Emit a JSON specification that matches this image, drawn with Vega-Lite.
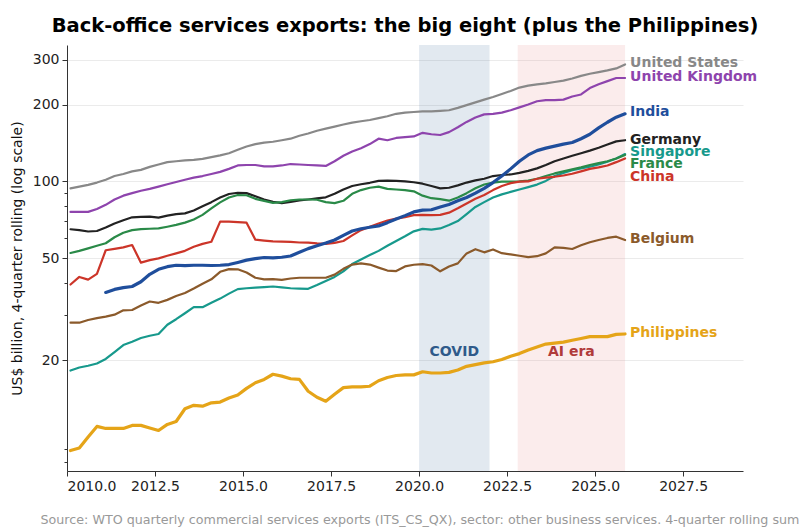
{
  "$schema": "https://vega.github.io/schema/vega-lite/v6.json",
  "width": 676,
  "height": 426,
  "autosize": {"type": "none"},
  "padding": {"left": 67, "top": 45, "right": 62, "bottom": 61},
  "title": {
    "text": "Back-office services exports: the big eight (plus the Philippines)",
    "fontSize": 19.5,
    "fontWeight": "bold",
    "color": "#000000",
    "anchor": "middle",
    "baseline": "alphabetic",
    "offset": 13,
    "dy": 19
  },
  "config": {
    "font": "DejaVu Sans",
    "view": {"stroke": null},
    "axis": {
      "domainColor": "#333333",
      "tickColor": "#333333",
      "labelColor": "#222222",
      "labelFontSize": 14,
      "labelFont": "DejaVu Sans",
      "titleFont": "DejaVu Sans",
      "titleFontWeight": "normal"
    }
  },
  "datasets": {
    "series": [
      {"t": 2010.1, "US": 94, "UK": 76, "DE": 65, "SG": 18.2, "FR": 52.5, "CN": 39.5, "BE": 28.0, "PH": 8.85},
      {"t": 2010.35, "US": 95.5, "UK": 76, "DE": 64.5, "SG": 18.7, "FR": 53.5, "CN": 42.3, "BE": 28.0, "PH": 9.05},
      {"t": 2010.6, "US": 97, "UK": 76, "DE": 63.7, "SG": 19.0, "FR": 54.7, "CN": 41.3, "BE": 28.7, "PH": 10.0},
      {"t": 2010.85, "US": 99, "UK": 78, "DE": 64, "SG": 19.4, "FR": 56, "CN": 43.5, "BE": 29.2, "PH": 11.0},
      {"t": 2011.1, "US": 101.5, "UK": 81, "IN": 36.8, "DE": 66, "SG": 20.2, "FR": 57.3, "CN": 53.8, "BE": 29.6, "PH": 10.8},
      {"t": 2011.35, "US": 105, "UK": 85, "IN": 37.8, "DE": 68.5, "SG": 21.5, "FR": 60.5, "CN": 54.5, "BE": 30.1, "PH": 10.8},
      {"t": 2011.6, "US": 107, "UK": 88, "IN": 38.4, "DE": 70.5, "SG": 22.9, "FR": 63, "CN": 55.2, "BE": 31.3, "PH": 10.8},
      {"t": 2011.85, "US": 109.5, "UK": 90, "IN": 38.8, "DE": 72.4, "SG": 23.6, "FR": 64.5, "CN": 56.4, "BE": 31.4, "PH": 11.1},
      {"t": 2012.1, "US": 111, "UK": 92, "IN": 40.5, "DE": 72.7, "SG": 24.4, "FR": 65.1, "CN": 48.1, "BE": 32.7, "PH": 11.1},
      {"t": 2012.35, "US": 114, "UK": 93.5, "IN": 43.3, "DE": 72.8, "SG": 24.9, "FR": 65.3, "CN": 49.2, "BE": 33.9, "PH": 10.85},
      {"t": 2012.6, "US": 116.5, "UK": 95.5, "IN": 45.3, "DE": 72.2, "SG": 25.3, "FR": 65.5, "CN": 50.0, "BE": 33.5, "PH": 10.6},
      {"t": 2012.85, "US": 119, "UK": 97.5, "IN": 46.4, "DE": 73.5, "SG": 27.5, "FR": 66.5, "CN": 51.2, "BE": 34.4, "PH": 11.2},
      {"t": 2013.1, "US": 120, "UK": 99.5, "IN": 47, "DE": 74.5, "SG": 28.9, "FR": 67.6, "CN": 52.3, "BE": 35.6, "PH": 11.5},
      {"t": 2013.35, "US": 121, "UK": 101.5, "IN": 46.8, "DE": 75, "SG": 30.5, "FR": 69, "CN": 53.5, "BE": 36.6, "PH": 12.9},
      {"t": 2013.6, "US": 121.5, "UK": 103.5, "IN": 47, "DE": 77, "SG": 32.2, "FR": 71, "CN": 55.5, "BE": 38.1, "PH": 13.3},
      {"t": 2013.85, "US": 122.5, "UK": 105, "IN": 47, "DE": 80, "SG": 32.2, "FR": 74, "CN": 57, "BE": 39.8, "PH": 13.2},
      {"t": 2014.1, "US": 124.5, "UK": 107, "IN": 46.9, "DE": 83, "SG": 33.5, "FR": 78.5, "CN": 58.1, "BE": 41.4, "PH": 13.6},
      {"t": 2014.35, "US": 126.5, "UK": 109, "IN": 47, "DE": 86.5, "SG": 34.8, "FR": 82.8, "CN": 69.6, "BE": 44.3, "PH": 13.7},
      {"t": 2014.6, "US": 129, "UK": 112, "IN": 47.3, "DE": 89.3, "SG": 36.4, "FR": 86.5, "CN": 69.6, "BE": 45.4, "PH": 14.2},
      {"t": 2014.85, "US": 133, "UK": 115.5, "IN": 48.2, "DE": 90.3, "SG": 37.9, "FR": 88.5, "CN": 69.3, "BE": 45.3, "PH": 14.6},
      {"t": 2015.1, "US": 137, "UK": 116, "IN": 49.2, "DE": 90, "SG": 38.2, "FR": 88.3, "CN": 69, "BE": 44, "PH": 15.5},
      {"t": 2015.35, "US": 140, "UK": 116, "IN": 49.9, "DE": 87.5, "SG": 38.4, "FR": 85.5, "CN": 59.2, "BE": 42, "PH": 16.3},
      {"t": 2015.6, "US": 142, "UK": 114.5, "IN": 50.4, "DE": 85, "SG": 38.6, "FR": 84, "CN": 58.7, "BE": 41.4, "PH": 16.8},
      {"t": 2015.85, "US": 143, "UK": 114.5, "IN": 50.2, "DE": 83.3, "SG": 38.8, "FR": 82.5, "CN": 58.3, "BE": 41.5, "PH": 17.6},
      {"t": 2016.1, "US": 145, "UK": 115.5, "IN": 50.5, "DE": 82.3, "SG": 38.5, "FR": 83, "CN": 58.2, "BE": 41.2, "PH": 17.3},
      {"t": 2016.35, "US": 147, "UK": 117, "IN": 51.1, "DE": 83.2, "SG": 38.2, "FR": 84.4, "CN": 58, "BE": 41.7, "PH": 16.9},
      {"t": 2016.6, "US": 151, "UK": 116.5, "IN": 52.8, "DE": 84.3, "SG": 38.1, "FR": 85, "CN": 57.7, "BE": 42, "PH": 16.8},
      {"t": 2016.85, "US": 154, "UK": 116, "IN": 54.6, "DE": 85, "SG": 38.0, "FR": 85, "CN": 57.6, "BE": 42, "PH": 15.1},
      {"t": 2017.1, "US": 158, "UK": 115.5, "IN": 56, "DE": 85.8, "SG": 39.3, "FR": 84.8, "CN": 57.2, "BE": 42, "PH": 14.3},
      {"t": 2017.35, "US": 161, "UK": 115, "IN": 57.4, "DE": 86.7, "SG": 40.8, "FR": 83, "CN": 57, "BE": 42, "PH": 13.8},
      {"t": 2017.6, "US": 164, "UK": 120, "IN": 59, "DE": 89.5, "SG": 42.3, "FR": 82.3, "CN": 57.5, "BE": 43.2, "PH": 14.7},
      {"t": 2017.85, "US": 167, "UK": 126, "IN": 61.5, "DE": 93, "SG": 44.5, "FR": 84, "CN": 58.5, "BE": 45.5, "PH": 15.6},
      {"t": 2018.1, "US": 170, "UK": 131, "IN": 64, "DE": 96, "SG": 47.5, "FR": 89.5, "CN": 61.5, "BE": 47.3, "PH": 15.7},
      {"t": 2018.35, "US": 172, "UK": 135, "IN": 65.3, "DE": 97.5, "SG": 49.5, "FR": 92.5, "CN": 64.5, "BE": 47.8, "PH": 15.7},
      {"t": 2018.6, "US": 174, "UK": 140, "IN": 66.2, "DE": 98.8, "SG": 51.5, "FR": 94.5, "CN": 66.5, "BE": 47.3, "PH": 15.8},
      {"t": 2018.85, "US": 177, "UK": 147, "IN": 67, "DE": 100.5, "SG": 53.5, "FR": 95.5, "CN": 68.5, "BE": 46, "PH": 16.6},
      {"t": 2019.1, "US": 180, "UK": 145, "IN": 69, "DE": 100.7, "SG": 56, "FR": 93.5, "CN": 70.3, "BE": 44.8, "PH": 17.1},
      {"t": 2019.35, "US": 184, "UK": 148, "IN": 71.3, "DE": 100.5, "SG": 58.5, "FR": 93, "CN": 71.5, "BE": 44.6, "PH": 17.4},
      {"t": 2019.6, "US": 186, "UK": 149, "IN": 73.5, "DE": 100, "SG": 61, "FR": 92.5, "CN": 72.5, "BE": 46.5, "PH": 17.5},
      {"t": 2019.85, "US": 187, "UK": 150, "IN": 76, "DE": 99.3, "SG": 63.8, "FR": 91.5, "CN": 73.8, "BE": 47.2, "PH": 17.5},
      {"t": 2020.1, "US": 188, "UK": 155, "IN": 77.2, "DE": 98, "SG": 65.2, "FR": 88, "CN": 74, "BE": 47.5, "PH": 18.0},
      {"t": 2020.35, "US": 188, "UK": 153, "IN": 77.5, "DE": 96, "SG": 64.8, "FR": 86, "CN": 73.8, "BE": 46.9, "PH": 17.8},
      {"t": 2020.6, "US": 189, "UK": 152, "IN": 79.5, "DE": 94, "SG": 65.5, "FR": 85.3, "CN": 74, "BE": 44.5, "PH": 17.8},
      {"t": 2020.85, "US": 190, "UK": 156, "IN": 81.3, "DE": 94.5, "SG": 67.5, "FR": 84.1, "CN": 75.5, "BE": 46.5, "PH": 17.9},
      {"t": 2021.1, "US": 194, "UK": 163, "IN": 84, "DE": 96.5, "SG": 70, "FR": 86.5, "CN": 78.5, "BE": 47.8, "PH": 18.3},
      {"t": 2021.35, "US": 199, "UK": 171, "IN": 86.5, "DE": 99, "SG": 74.5, "FR": 90, "CN": 82, "BE": 52.3, "PH": 18.9},
      {"t": 2021.6, "US": 204, "UK": 178, "IN": 90, "DE": 101, "SG": 79.5, "FR": 94, "CN": 85.5, "BE": 54.3, "PH": 19.2},
      {"t": 2021.85, "US": 209, "UK": 183, "IN": 94, "DE": 102.5, "SG": 83, "FR": 97.3, "CN": 88.5, "BE": 52.8, "PH": 19.5},
      {"t": 2022.1, "US": 214, "UK": 184, "IN": 99, "DE": 105, "SG": 86.5, "FR": 99, "CN": 92.5, "BE": 54.2, "PH": 19.7},
      {"t": 2022.35, "US": 220, "UK": 186, "IN": 105, "DE": 106, "SG": 89, "FR": 99.8, "CN": 96, "BE": 52.4, "PH": 20.1},
      {"t": 2022.6, "US": 226, "UK": 190, "IN": 112, "DE": 106.5, "SG": 91, "FR": 99.8, "CN": 98.5, "BE": 51.8, "PH": 20.7},
      {"t": 2022.85, "US": 233, "UK": 195, "IN": 120, "DE": 108, "SG": 93, "FR": 100, "CN": 99.8, "BE": 51.2, "PH": 21.2},
      {"t": 2023.1, "US": 237, "UK": 200, "IN": 127, "DE": 110, "SG": 95, "FR": 100.8, "CN": 100, "BE": 50.6, "PH": 21.9},
      {"t": 2023.35, "US": 240, "UK": 206, "IN": 132, "DE": 112.5, "SG": 97.2, "FR": 102.5, "CN": 102.5, "BE": 51, "PH": 22.5},
      {"t": 2023.6, "US": 242, "UK": 208, "IN": 135, "DE": 116, "SG": 100.5, "FR": 105, "CN": 103.5, "BE": 52.3, "PH": 23.1},
      {"t": 2023.85, "US": 245, "UK": 208, "IN": 137.5, "DE": 120, "SG": 105, "FR": 107.5, "CN": 104.3, "BE": 55.2, "PH": 23.3},
      {"t": 2024.1, "US": 248, "UK": 209, "IN": 140, "DE": 123, "SG": 108, "FR": 109.5, "CN": 105.5, "BE": 55, "PH": 23.5},
      {"t": 2024.35, "US": 253, "UK": 215, "IN": 142, "DE": 126, "SG": 110.7, "FR": 111.5, "CN": 107.2, "BE": 54.4, "PH": 23.9},
      {"t": 2024.6, "US": 259, "UK": 219, "IN": 147, "DE": 129, "SG": 112.5, "FR": 113.5, "CN": 109.5, "BE": 56.3, "PH": 24.3},
      {"t": 2024.85, "US": 264, "UK": 232, "IN": 153, "DE": 132, "SG": 114.2, "FR": 116, "CN": 112, "BE": 57.8, "PH": 24.7},
      {"t": 2025.1, "US": 268, "UK": 240, "IN": 162, "DE": 135.5, "SG": 116.5, "FR": 118, "CN": 113.5, "BE": 59, "PH": 24.7},
      {"t": 2025.35, "US": 272, "UK": 247, "IN": 170.5, "DE": 139.5, "SG": 119.5, "FR": 120, "CN": 115.5, "BE": 60.1, "PH": 24.7},
      {"t": 2025.6, "US": 277, "UK": 254, "IN": 178.5, "DE": 143.5, "SG": 123, "FR": 123, "CN": 119, "BE": 60.8, "PH": 25.2},
      {"t": 2025.85, "US": 287, "UK": 254, "IN": 184, "DE": 145, "SG": 128, "FR": 127, "CN": 123, "BE": 59, "PH": 25.3}
    ],
    "periods": [
      {"label": "COVID", "start": 2020, "end": 2022},
      {"label": "AI era", "start": 2022.8, "end": 2025.85}
    ],
    "labels": [
      {"code": "US", "name": "United States", "at": 290},
      {"code": "UK", "name": "United Kingdom", "at": 256},
      {"code": "IN", "name": "India", "at": 186.6},
      {"code": "DE", "name": "Germany", "at": 145.4},
      {"code": "SG", "name": "Singapore", "at": 130.1},
      {"code": "FR", "name": "France", "at": 116.8},
      {"code": "CN", "name": "China", "at": 104.4},
      {"code": "BE", "name": "Belgium", "at": 59.4},
      {"code": "PH", "name": "Philippines", "at": 25.5}
    ]
  },
  "layer": [
    {
      "data": {"name": "periods"},
      "mark": {"type": "rect", "opacity": 0.15},
      "encoding": {
        "x": {"field": "start", "type": "quantitative"},
        "x2": {"field": "end"},
        "fill": {
          "field": "label",
          "type": "nominal",
          "scale": {"domain": ["COVID", "AI era"], "range": ["#3e6c9b", "#e48080"]},
          "legend": null
        }
      }
    },
    {
      "data": {"name": "periods"},
      "transform": [{"calculate": "(datum.start + datum.end) / 2", "as": "mid"}],
      "mark": {"type": "text", "fontSize": 14, "fontWeight": "bold", "align": "center", "baseline": "middle"},
      "encoding": {
        "x": {"field": "mid", "type": "quantitative"},
        "y": {"datum": 21.6, "type": "quantitative"},
        "text": {"field": "label"},
        "color": {
          "condition": {"test": "datum.label == 'COVID'", "value": "#2f5a8a"},
          "value": "#b03a3a"
        }
      }
    },
    {
      "data": {"name": "series"},
      "transform": [
        {"fold": ["US", "UK", "IN", "DE", "SG", "FR", "CN", "BE", "PH"], "as": ["code", "value"]},
        {"filter": "isValid(datum.value)"}
      ],
      "mark": {"type": "line", "strokeCap": "round", "strokeJoin": "round"},
      "encoding": {
        "x": {
          "field": "t",
          "type": "quantitative",
          "scale": {"domain": [2010, 2029.2], "nice": false, "zero": false},
          "axis": {
            "values": [2010, 2012.5, 2015, 2017.5, 2020, 2022.5, 2025, 2027.5],
            "format": ".1f",
            "grid": false,
            "tickSize": 5,
            "labelPadding": 3,
            "title": "Source: WTO quarterly commercial services exports (ITS_CS_QX), sector: other business services. 4-quarter rolling sum",
            "titleFontSize": 12.7,
            "titleColor": "#999999",
            "titleAlign": "left",
            "titleAnchor": "start",
            "titleBaseline": "alphabetic",
            "titleX": -27,
            "titleY": 52
          }
        },
        "y": {
          "field": "value",
          "type": "quantitative",
          "scale": {"type": "log", "domain": [7.36, 342], "nice": false},
          "axis": {
            "values": [8, 9, 20, 30, 40, 50, 60, 70, 80, 90, 100, 200, 300],
            "labelExpr": "indexof([20, 50, 100, 200, 300], datum.value) >= 0 ? format(datum.value, 'd') : ''",
            "tickSize": {
              "condition": {"test": "indexof([20, 50, 100, 200, 300], datum.value) >= 0", "value": 5},
              "value": 3
            },
            "grid": true,
            "gridColor": "#ebebeb",
            "gridOpacity": {
              "condition": {"test": "indexof([20, 50, 100, 200, 300], datum.value) >= 0", "value": 1},
              "value": 0
            },
            "labelPadding": 3,
            "title": "US$ billion, 4-quarter rolling (log scale)",
            "titleFontSize": 14,
            "titleColor": "#111111",
            "titlePadding": 8
          }
        },
        "color": {
          "field": "code",
          "type": "nominal",
          "scale": {
            "domain": ["US", "UK", "IN", "DE", "SG", "FR", "CN", "BE", "PH"],
            "range": ["#888888", "#8e44ad", "#1f4e9c", "#222222", "#17998c", "#2a8a48", "#cc3529", "#8b5a2b", "#e5a418"]
          },
          "legend": null
        },
        "strokeWidth": {
          "condition": {"test": "datum.code == 'IN' || datum.code == 'PH'", "value": 3.2},
          "value": 2.2
        }
      }
    },
    {
      "data": {"name": "labels"},
      "mark": {"type": "text", "align": "left", "baseline": "middle", "dx": 5, "fontSize": 14, "fontWeight": "bold"},
      "encoding": {
        "x": {"datum": 2025.85, "type": "quantitative"},
        "y": {"field": "at", "type": "quantitative"},
        "text": {"field": "name"},
        "color": {"field": "code", "type": "nominal", "legend": null}
      }
    }
  ]
}
